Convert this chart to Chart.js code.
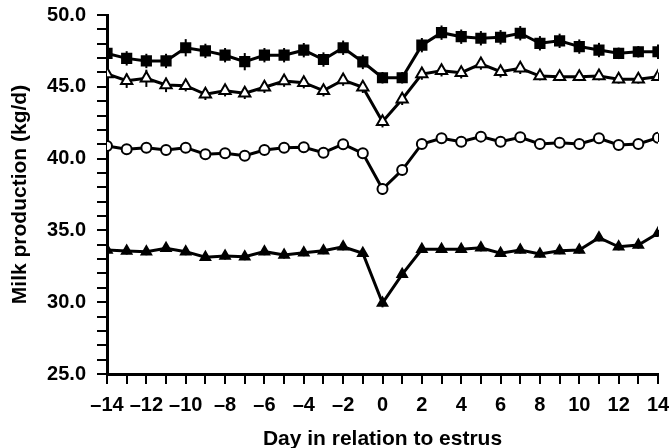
<!DOCTYPE html>
<html>
<head>
<meta charset="utf-8">
<script src="https://cdn.jsdelivr.net/npm/chart.js@4.4.1/dist/chart.umd.min.js"></script>
<style>
  html, body { margin: 0; padding: 0; background: #fff; }
  #wrap { width: 672px; height: 448px; }
</style>
</head>
<body>
<div id="wrap"><canvas id="milkChart" width="672" height="448"></canvas></div>
<script>
// days relative to estrus
const days = [-14,-13,-12,-11,-10,-9,-8,-7,-6,-5,-4,-3,-2,-1,0,1,2,3,4,5,6,7,8,9,10,11,12,13,14];

// filled squares (top group)
const squareMilk = [47.33,46.98,46.8,46.8,47.72,47.5,47.2,46.75,47.2,47.2,47.55,46.9,47.72,46.73,45.63,45.63,47.9,48.77,48.49,48.38,48.45,48.73,48.03,48.2,47.8,47.56,47.33,47.44,47.44];
const squareSE = [0.6,0.5,0.5,0.5,0.6,0.5,0.5,0.6,0.5,0.5,0.5,0.5,0.5,0.5,0.4,0.4,0.5,0.5,0.5,0.5,0.5,0.5,0.5,0.5,0.5,0.5,0.4,0.4,0.5];

// open triangles
const openTriMilk = [45.89,45.42,45.59,45.13,45.08,44.48,44.73,44.55,44.97,45.4,45.29,44.73,45.47,44.97,42.57,44.13,45.89,46.12,45.98,46.59,46.05,46.29,45.75,45.7,45.7,45.75,45.52,45.52,45.7];
const openTriSE = [0.4,0.5,0.6,0.5,0.4,0.4,0.4,0.4,0.4,0.4,0.4,0.4,0.4,0.4,0.4,0.4,0.4,0.4,0.4,0.4,0.4,0.4,0.3,0.3,0.3,0.3,0.3,0.3,0.3];

// open circles
const circleMilk = [40.88,40.65,40.76,40.6,40.76,40.3,40.37,40.2,40.6,40.76,40.79,40.41,41.0,40.37,37.88,39.2,41.02,41.41,41.18,41.53,41.18,41.48,41.02,41.11,41.02,41.41,40.95,41.02,41.46];
const circleSE = [0.3,0.3,0.3,0.3,0.3,0.3,0.3,0.3,0.3,0.3,0.3,0.3,0.3,0.3,0.4,0.3,0.3,0.3,0.3,0.3,0.3,0.3,0.3,0.3,0.3,0.3,0.3,0.3,0.3];

// filled triangles (bottom group)
const fillTriMilk = [33.64,33.57,33.52,33.75,33.52,33.13,33.22,33.17,33.52,33.29,33.45,33.59,33.86,33.41,29.94,31.94,33.68,33.68,33.68,33.79,33.41,33.64,33.36,33.59,33.64,34.49,33.86,33.98,34.8];
const fillTriSE = [0.25,0.25,0.25,0.25,0.25,0.25,0.25,0.25,0.25,0.25,0.25,0.25,0.25,0.25,0.3,0.25,0.25,0.25,0.25,0.25,0.25,0.25,0.25,0.25,0.25,0.25,0.25,0.25,0.25];

const yMin = 25, yMax = 50;

function pts(vals) {
    return days.map((d, i) => ({x: d, y: vals[i]}));
}

const tickFont = {family: '"Liberation Sans", Arial, sans-serif', size: 20, weight: 'bold'};

// vertical error bars, drawn under the lines and markers
const errorBars = {
    id: 'errorBars',
    beforeDatasetsDraw(chart) {
        const ctx = chart.ctx;
        const xs = chart.scales.x, ys = chart.scales.y;
        ctx.save();
        ctx.strokeStyle = '#000';
        ctx.lineWidth = 2;
        chart.data.datasets.forEach(ds => {
            ds.data.forEach((p, i) => {
                const px = xs.getPixelForValue(p.x);
                ctx.beginPath();
                ctx.moveTo(px, ys.getPixelForValue(p.y + ds.se[i]));
                ctx.lineTo(px, ys.getPixelForValue(p.y - ds.se[i]));
                ctx.stroke();
            });
        });
        ctx.restore();
    }
};

function series(vals, se, style, radius, filled) {
    return {
        data: pts(vals),
        se: se,
        borderColor: '#000',
        borderWidth: 3,
        pointStyle: style,
        pointRadius: radius,
        pointBorderWidth: 2,
        pointBorderColor: '#000',
        pointBackgroundColor: filled ? '#000' : '#fff',
        tension: 0
    };
}

new Chart(document.getElementById('milkChart'), {
    type: 'line',
    data: {
        datasets: [
            series(squareMilk, squareSE, 'rect', 6.5, true),
            series(openTriMilk, openTriSE, 'triangle', 6.5, false),
            series(circleMilk, circleSE, 'circle', 5, false),
            series(fillTriMilk, fillTriSE, 'triangle', 5.5, true)
        ]
    },
    plugins: [errorBars],
    options: {
        responsive: false,
        animation: false,
        layout: {padding: {left: 0, right: 14, top: 15, bottom: 0}},
        plugins: {
            legend: {display: false},
            tooltip: {enabled: false}
        },
        scales: {
            x: {
                type: 'linear',
                min: -14,
                max: 14,
                afterFit: s => { s.height = 74; s.paddingLeft = 0; s.paddingRight = 0; },
                border: {display: true, color: '#000', width: 3},
                grid: {drawOnChartArea: false, drawTicks: true, tickLength: 10, color: '#000', lineWidth: 2},
                ticks: {
                    stepSize: 1,
                    autoSkip: false,
                    maxRotation: 0,
                    padding: 9,
                    color: '#000',
                    font: tickFont,
                    callback: v => v % 2 === 0 ? (v < 0 ? '\u2013' + Math.abs(v) : String(v)) : ''
                },
                title: {
                    display: true,
                    text: 'Day in relation to estrus',
                    color: '#000',
                    font: {family: '"Liberation Sans", Arial, sans-serif', size: 21, weight: 'bold', lineHeight: 0.8},
                    padding: {top: 0, bottom: 0}
                }
            },
            y: {
                min: yMin,
                max: yMax,
                afterFit: s => { s.width = 107; s.paddingTop = 0; s.paddingBottom = 0; },
                border: {display: true, color: '#000', width: 3},
                grid: {drawOnChartArea: false, drawTicks: true, tickLength: 10, color: '#000', lineWidth: 2},
                ticks: {
                    stepSize: 1,
                    autoSkip: false,
                    padding: 11,
                    color: '#000',
                    font: tickFont,
                    callback: v => v % 5 === 0 ? v.toFixed(1) : ''
                },
                title: {
                    display: true,
                    text: 'Milk production (kg/d)',
                    color: '#000',
                    font: {family: '"Liberation Sans", Arial, sans-serif', size: 21, weight: 'bold'},
                    padding: {top: 8, bottom: 0}
                }
            }
        }
    }
});
</script>
</body>
</html>
